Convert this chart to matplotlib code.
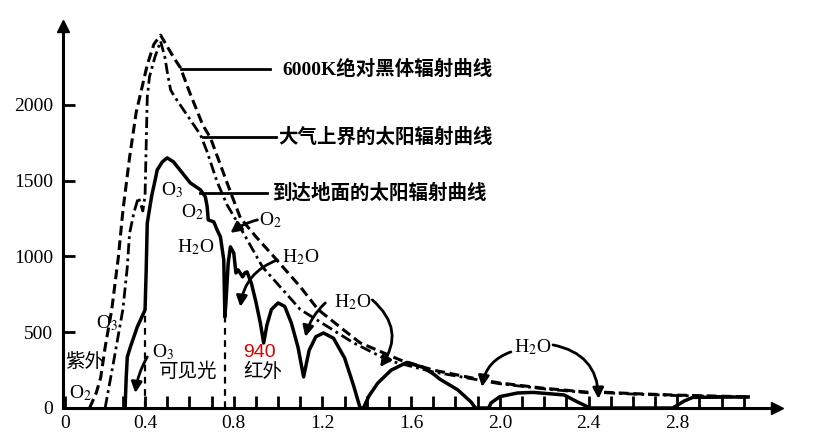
import numpy as np
import matplotlib.pyplot as plt

# wavelength (um) vs spectral irradiance
BB_X = [0.15, 0.18, 0.20, 0.22, 0.25, 0.28, 0.30, 0.33, 0.36, 0.41, 0.44, 0.47, 0.53, 0.56, 0.60,
        0.66, 0.695, 0.74, 0.785, 0.83, 0.90, 0.98, 1.10, 1.18, 1.30, 1.37, 1.55, 1.70, 1.90,
        1.93, 1.96, 2.0, 2.2, 2.40, 2.44, 2.47, 2.6, 2.8, 3.13]
BB_Y = [0, 100, 200, 400, 650, 1000, 1300, 1650, 1950, 2264, 2400, 2460, 2310, 2244, 2086,
        1868, 1782, 1604, 1426, 1254, 1130, 1000, 800, 650, 510, 430, 317, 250, 191,
        np.nan, 175, 165, 130, 104, np.nan, 104, 95, 85, 73]

EX_X = [0.22, 0.26, 0.30, 0.32, 0.33, 0.35, 0.37, 0.39, 0.40, 0.41, 0.42, 0.445, 0.47, 0.49,
        0.50, 0.515, 0.52, 0.535, 0.60, 0.65, 0.68, 0.725, 0.77, 0.815, 0.93, 1.10, 1.34,
        1.50, 1.70, 1.90, 1.93, 1.96, 2.0, 2.2, 2.40, 2.44, 2.47, 2.6, 2.8, 3.13]
EX_Y = [0, 320, 650, 930, 1150, 1290, 1390, 1300, 1400, 2050, 2185, 2317, 2420, 2310,
        2218, 2100, 2086, 2050, 1910, 1802, 1690, 1492, 1340, 1228, 930, 650, 430,
        312, 238, 186, np.nan, 170, 160, 126, 100, np.nan, 101, 92, 82, 71]

GR_X = [0.31, 0.315, 0.32, 0.334, 0.365, 0.40, 0.405, 0.41, 0.43, 0.445, 0.455, 0.478, 0.50,
        0.528, 0.568, 0.604, 0.65, 0.672, 0.68, 0.685, 0.71, 0.725, 0.74, 0.755, 0.76, 0.765,
        0.775, 0.785, 0.80, 0.81, 0.82, 0.84, 0.85, 0.86, 0.88, 0.90, 0.92, 0.935, 0.95, 0.97,
        1.0, 1.03, 1.06, 1.09, 1.115, 1.14, 1.17, 1.205, 1.25, 1.30, 1.34, 1.37,
        1.385, 1.41, 1.45, 1.51, 1.58, 1.65, 1.70, 1.73, 1.81, 1.87, 1.89,
        1.95, 1.96, 2.0, 2.08, 2.15, 2.29, 2.35, 2.39, 2.40,
        2.78, 2.83, 2.87, 3.12]
GR_Y = [0, 200, 337, 403, 535, 647, 900, 1220, 1400, 1500, 1571, 1624, 1650,
        1624, 1551, 1485, 1439, 1393, 1330, 1241, 1228, 1175, 1129, 977, 600, 700,
        957, 1063, 1023, 891, 911, 865, 891, 898, 820, 700, 560, 429, 550, 650,
        693, 670, 560, 400, 205, 380, 470, 495, 460, 330, 150, 0,
        0, 80, 165, 250, 300, 270, 225, 190, 120, 40, 0,
        0, 33, 75, 99, 103, 86, 40, 12, 0,
        0, 45, 70, 73]

XTICK_POS = [0.04, 0.4, 0.8, 1.2, 1.6, 2.0, 2.4, 2.8]
XTICK_LBL = ['0', '0.4', '0.8', '1.2', '1.6', '2.0', '2.4', '2.8']
YTICKS = [0, 500, 1000, 1500, 2000]
BOUNDS = [0.40, 0.76]

plt.rcParams['font.family'] = ['Liberation Serif', 'Noto Sans CJK SC']
plt.rcParams['mathtext.fontset'] = 'stix'

fig = plt.figure(figsize=(8.16, 4.43), dpi=100)
ax = fig.add_axes([63/816, 35/443, 714/816, 382/443])
ax.set_xlim(0.03, 3.25)
ax.set_ylim(0, 2520)

ax.plot(BB_X, BB_Y, color='black', lw=2.2, dashes=(3.2, 1.6))
ax.plot(EX_X, EX_Y, color='black', lw=2.0, dashes=(4, 1.5, 1, 1.5))
ax.plot(GR_X, GR_Y, color='black', lw=2.5, solid_joinstyle='round')

for b in BOUNDS:
    ax.plot([b, b], [0, np.interp(b, GR_X, GR_Y)], color='black', lw=1.6, dashes=(3, 2.5))

# leader lines to the curve names
ck = dict(fontsize=14, fontweight='bold', va='center', family=['Liberation Serif', 'Noto Sans CJK SC'])
ax.plot([0.56, 0.965], [2237, 2237], color='black', lw=2)
ax.text(1.02, 2237, '6000K绝对黑体辐射曲线', **ck)
ax.plot([0.66, 0.99], [1789, 1789], color='black', lw=2)
ax.text(1.0, 1789, '大气上界的太阳辐射曲线', **ck)
ax.plot([0.65, 0.95], [1419, 1419], color='black', lw=2)
ax.text(0.975, 1419, '到达地面的太阳辐射曲线', **ck)

sm = dict(fontsize=14, ha='center', va='center')
ax.text(0.523, 1439, r'O$_3$', **sm)
ax.text(0.613, 1294, r'O$_2$', **sm)
ax.text(0.627, 1063, r'H$_2$O', **sm)
ax.text(0.965, 1241, r'O$_2$', **sm)
ax.text(1.10, 997, r'H$_2$O', **sm)
ax.text(1.335, 700, r'H$_2$O', **sm)
ax.text(2.15, 403, r'H$_2$O', **sm)
ax.text(0.23, 561, r'O$_3$', **sm)
ax.text(0.108, 99, r'O$_2$', **sm)
ax.text(0.483, 370, r'O$_3$', **sm)
ax.text(0.13, 304, '紫外', **sm)
ax.text(0.595, 238, '可见光', **sm)
ax.text(0.93, 238, '红外', **sm)
ax.text(0.915, 363, '940', color='#e00000', fontsize=14, ha='center', va='center',
        family='Liberation Sans')

arrows = [
    ((0.907, 1241), (0.785, 1155), 0.1),
    ((0.997, 977), (0.83, 667), 0.3),
    ((1.213, 693), (1.123, 469), 0.15),
    ((1.425, 713), (1.46, 270), -0.45),
    ((2.05, 370), (1.92, 139), 0.3),
    ((2.24, 416), (2.445, 60), -0.4),
    ((0.41, 337), (0.356, 99), 0.1),
]
for tail, head, rad in arrows:
    ax.annotate('', xy=head, xytext=tail,
                arrowprops=dict(arrowstyle='-|>', color='black', lw=2,
                                connectionstyle=f'arc3,rad={rad}', mutation_scale=16,
                                shrinkA=0, shrinkB=0))

for side in ['top', 'right']:
    ax.spines[side].set_visible(False)
for side in ['left', 'bottom']:
    ax.spines[side].set_linewidth(2.2)
ax.plot(1, 0, '>k', transform=ax.transAxes, clip_on=False, ms=8)
ax.plot(0, 1, '^k', transform=ax.transAxes, clip_on=False, ms=8)

ax.set_xticks(XTICK_POS)
ax.set_xticklabels(XTICK_LBL)
ax.set_xticks(np.arange(3, 32) / 10, minor=True)
ax.set_yticks(YTICKS)
ax.tick_params(which='both', direction='in', length=8.5, width=2, labelsize=14)
ax.tick_params(axis='y', pad=7)
ax.tick_params(axis='x', pad=5)

fig.savefig('out.png', dpi=100)
